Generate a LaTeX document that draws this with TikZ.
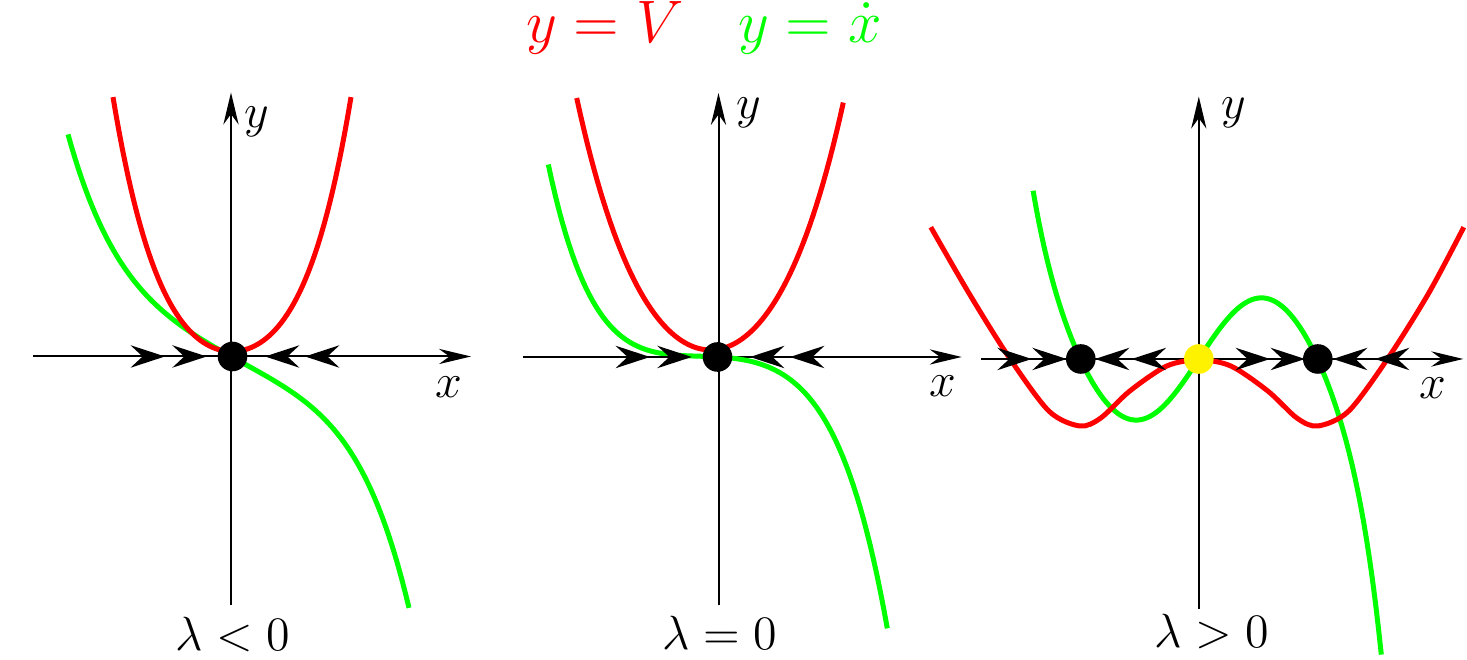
\RequirePackage{fix-cm}
\documentclass[tikz,border=0pt]{standalone}
\usepackage{tikz}
\usetikzlibrary{arrows.meta}

\tikzset{
  axis/.style={line width=0.5pt,-{Stealth[length=8pt,width=3.8pt,inset=2.6pt]}},
  flow/.style={line width=0.5pt,-{Stealth[length=8.6pt,width=5.6pt,inset=3pt]}},
  potV/.style={red,line width=1.25pt},
  velX/.style={green,line width=1.25pt},
  eqpt/.style={circle,fill=black,inner sep=0pt,minimum size=7.4pt},
  lbl/.style={font=\fontsize{12}{14}\selectfont,inner sep=0pt},
  legend/.style={font=\fontsize{15}{18}\selectfont,inner sep=0pt,anchor=base},
}

\begin{document}
\begin{tikzpicture}[x=0.25pt,y=0.25pt,
  declare function={
    vneg(\s)=5+106*\s*\s+52*\s*\s*\s*\s;
    xneg(\s)=5*\s*\s-55.6*\s-14*\s*\s*\s-5*\s*\s*\s*\s*\s;
    vzero(\w)=7+109.6*\w*\w+17.4*\w*\w*\w*\w;
    xzero(\s)=-6*\s-15*\s*\s-24.8*\s*\s*\s-7.24*\s*\s*\s*\s*\s;
    xpos(\s)=180.4*\s-258.9*\s*\s*\s+104.4*\s*\s*\s*\s*\s-25.9*\s*\s*\s*\s*\s*\s*\s;
  }]
\useasboundingbox (0,0) rectangle (1467,660);

% legend
\node[legend,red] (legV) at (605,617) {$y=V$};
\node[legend,green] (legX) at (810,617) {$y=\dot{x}$};

% lambda < 0
\begin{scope}[shift={(231,303.5)}]
\coordinate (xa1) at (-197.7,0); \coordinate (xb1) at (240,0);
\coordinate (ya1) at (0,-248.5); \coordinate (yb1) at (0,264);
\draw[axis] (xa1) -- (xb1);
\draw[axis] (ya1) -- (yb1);
\draw[velX] plot[domain=-163:178,samples=100] (\x,{xneg(\x/100)});
\draw[potV] plot[domain=-118:120,samples=80] (\x,{vneg((\x-1)/100)});
\foreach \a/\b in {-110/-66,-68/-24.3,75/34,119/74} \draw[flow] (\a,0) -- (\b,0);
\node[eqpt] (eq1) at (1.5,0) {};
\node[lbl] (ylab1) at (25.7,234.5) {$y$};
\node[lbl] (xlab1) at (218,-30.5) {$x$};
\node[lbl] (lam1) at (2,-277.5) {$\lambda<0$};
\end{scope}

% lambda = 0
\begin{scope}[shift={(718.5,303)}]
\coordinate (xa2) at (-195.2,0); \coordinate (xb2) at (243.2,0);
\coordinate (ya2) at (0,-248.3); \coordinate (yb2) at (0,264);
\draw[axis] (xa2) -- (xb2);
\draw[axis] (ya2) -- (yb2);
\draw[velX] plot[domain=-170.2:168.8,samples=100] (\x,{xzero(\x/100)});
\draw[potV] plot[domain=-141.8:124.8,samples=80] (\x,{vzero(\x/100+0.08)});
\foreach \a/\b in {-112/-68.5,-70/-26.8,75/31.5,115/71.5} \draw[flow] (\a,0) -- (\b,0);
\node[eqpt] (eq2) at (-1,0) {};
\node[lbl] (ylab2) at (30.5,244) {$y$};
\node[lbl] (xlab2) at (224.8,-29) {$x$};
\node[lbl] (lam2) at (1.5,-276) {$\lambda=0$};
\end{scope}

% lambda > 0
\begin{scope}[shift={(1198.8,301)}]
\coordinate (xa3) at (-217.4,0); \coordinate (xb3) at (264.5,0);
\coordinate (ya3) at (0,-250); \coordinate (yb3) at (0,262.4);
\draw[axis] (xa3) -- (xb3);
\draw[axis] (ya3) -- (yb3);
\draw[velX] plot[domain=-165.7:182.5,samples=120] (\x,{xpos(\x/118.5)});
\draw[potV] plot[smooth] coordinates {(-268,131.8) (-230,66) (-190,2) (-150,-52) (-119,-67) (-98,-59) (-69,-32) (-32,-7) (0,-1) (32,-7) (69,-32) (98,-59) (119,-67) (150,-52) (190,2) (230,66) (265,131.8)};
\foreach \a/\b in {-209/-167.1,-169/-132.1,-67/-103.8,-26/-67.1,26/71.2,68/106.2,178/134.2,219/176.2} \draw[flow] (\a,0) -- (\b,0);
\node[eqpt] (eq3a) at (-118,0) {};
\node[eqpt,fill=yellow] (eq3b) at (0,0) {};
\node[eqpt] (eq3c) at (119,0) {};
\node[lbl] (ylab3) at (35,246) {$y$};
\node[lbl] (xlab3) at (234,-29) {$x$};
\node[lbl] (lam3) at (13.2,-272) {$\lambda>0$};
\end{scope}
\end{tikzpicture}
\end{document}
